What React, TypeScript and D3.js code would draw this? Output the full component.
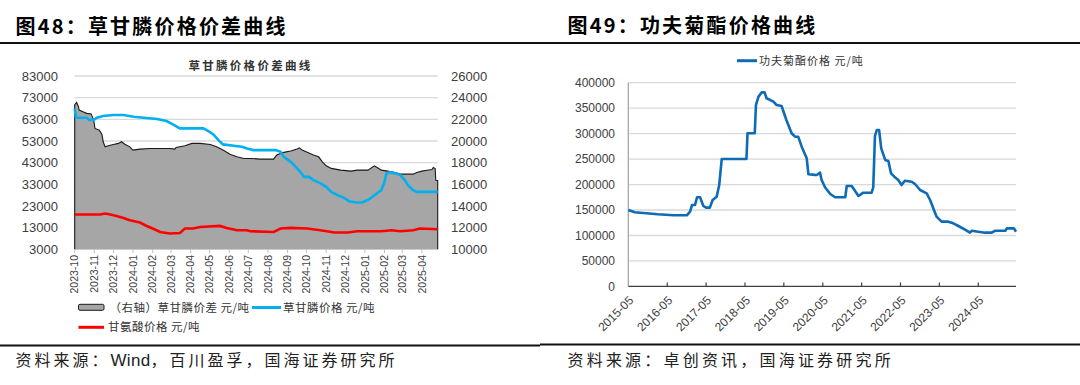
import React from "react";
import * as d3 from "d3";

// ---------- Left chart data (图48) ----------
const leftMonthLabels = [
  "2023-10","2023-11","2023-12","2024-01","2024-02","2024-03","2024-04","2024-05","2024-06","2024-07",
  "2024-08","2024-09","2024-10","2024-11","2024-12","2025-01","2025-02","2025-03","2025-04",
];
const leftAxisTicks = [3000, 13000, 23000, 33000, 43000, 53000, 63000, 73000, 83000];
const rightAxisTicks = [10000, 12000, 14000, 16000, 18000, 20000, 22000, 24000, 26000];

// 草甘膦价差 (right axis)
const spreadSeries: [string, number][] = [
  ["2023-10-01", 23320], ["2023-10-04", 23570], ["2023-10-07", 23160], ["2023-10-08", 22860],
  ["2023-10-14", 22700], ["2023-10-20", 22550], ["2023-10-27", 22500], ["2023-10-31", 21930],
  ["2023-11-02", 21160], ["2023-11-09", 21000], ["2023-11-13", 20600], ["2023-11-15", 19930],
  ["2023-11-18", 19460], ["2023-11-23", 19560], ["2023-12-01", 19680], ["2023-12-09", 19780],
  ["2023-12-14", 19930], ["2023-12-19", 19700], ["2023-12-27", 19460], ["2024-01-01", 19160],
  ["2024-01-12", 19250], ["2024-01-28", 19300], ["2024-02-28", 19300], ["2024-03-07", 19250],
  ["2024-03-09", 19400], ["2024-03-23", 19560], ["2024-04-03", 19780], ["2024-04-16", 19780],
  ["2024-05-02", 19680], ["2024-05-12", 19460], ["2024-05-22", 19160], ["2024-06-03", 18760],
  ["2024-06-13", 18540], ["2024-06-24", 18390], ["2024-07-04", 18390], ["2024-07-20", 18330],
  ["2024-08-10", 18330], ["2024-08-15", 18700], ["2024-08-26", 18950], ["2024-09-06", 19070],
  ["2024-09-16", 19250], ["2024-09-20", 19370], ["2024-09-24", 19160], ["2024-10-02", 18950],
  ["2024-10-12", 18700], ["2024-10-20", 18540], ["2024-10-26", 18080], ["2024-11-01", 17710],
  ["2024-11-09", 17470], ["2024-11-24", 17310], ["2024-12-10", 17220], ["2024-12-20", 17310],
  ["2025-01-06", 17310], ["2025-01-16", 17710], ["2025-01-21", 17530], ["2025-01-27", 17310],
  ["2025-02-06", 17220], ["2025-02-16", 17100], ["2025-02-26", 16940], ["2025-03-18", 16940],
  ["2025-03-24", 17100], ["2025-04-01", 17220], ["2025-04-09", 17300], ["2025-04-17", 17370],
  ["2025-04-19", 17560], ["2025-04-22", 17450], ["2025-04-23", 16380], ["2025-04-26", 16360],
];

// 草甘膦价格 (left axis)
const glyphosateSeries: [string, number][] = [
  ["2023-10-01", 68000], ["2023-10-03", 63720], ["2023-10-20", 63720], ["2023-10-24", 62660],
  ["2023-10-31", 62660], ["2023-11-05", 63720], ["2023-11-15", 64510], ["2023-12-01", 64970],
  ["2023-12-17", 64970], ["2024-01-02", 64190], ["2024-01-18", 63720], ["2024-02-08", 63120],
  ["2024-02-23", 62200], ["2024-03-04", 60670], ["2024-03-15", 58820], ["2024-04-21", 58820],
  ["2024-04-29", 57570], ["2024-05-07", 56050], ["2024-05-15", 53410], ["2024-05-22", 51420],
  ["2024-06-08", 50780], ["2024-06-21", 50320], ["2024-06-29", 49580], ["2024-07-09", 48790],
  ["2024-08-13", 48790], ["2024-08-21", 48000], ["2024-08-26", 45690], ["2024-09-06", 43380],
  ["2024-09-14", 41070], ["2024-09-21", 38760], ["2024-09-27", 36450], ["2024-10-05", 36450],
  ["2024-10-12", 34920], ["2024-10-23", 33400], ["2024-11-01", 31830], ["2024-11-09", 29500],
  ["2024-11-19", 27990], ["2024-11-29", 26740], ["2024-12-07", 25210], ["2024-12-18", 24610],
  ["2024-12-28", 24610], ["2025-01-08", 26140], ["2025-01-16", 27990], ["2025-01-27", 30300],
  ["2025-02-01", 34140], ["2025-02-04", 38020], ["2025-02-09", 38480], ["2025-02-19", 38020],
  ["2025-02-26", 37230], ["2025-03-05", 34920], ["2025-03-10", 32610], ["2025-03-18", 30300],
  ["2025-03-24", 29500], ["2025-04-26", 29500],
];

// 甘氨酸价格 (left axis)
const glycineSeries: [string, number][] = [
  ["2023-10-01", 19060], ["2023-11-10", 19060], ["2023-11-18", 19530], ["2023-11-26", 19060],
  ["2023-12-06", 18420], ["2023-12-17", 17490], ["2023-12-27", 16430], ["2024-01-12", 15360],
  ["2024-01-20", 14120], ["2024-02-01", 12590], ["2024-02-13", 11020], ["2024-02-28", 10300],
  ["2024-03-15", 10560], ["2024-03-23", 12590], ["2024-04-05", 12590], ["2024-04-16", 13330],
  ["2024-05-17", 13790], ["2024-05-28", 12870], ["2024-06-13", 11810], ["2024-06-29", 11810],
  ["2024-07-04", 11340], ["2024-08-10", 11020], ["2024-08-21", 12590], ["2024-09-06", 12870],
  ["2024-10-02", 12590], ["2024-10-23", 11810], ["2024-11-14", 10740], ["2024-12-05", 10740],
  ["2024-12-20", 11340], ["2025-01-27", 11340], ["2025-02-12", 11810], ["2025-02-26", 11340],
  ["2025-03-18", 11810], ["2025-03-29", 12590], ["2025-04-26", 12270],
];

// ---------- Right chart data (图49) ----------
const rightYearLabels = [
  "2015-05","2016-05","2017-05","2018-05","2019-05","2020-05","2021-05","2022-05","2023-05","2024-05",
];
const priceAxisTicks = [0, 50000, 100000, 150000, 200000, 250000, 300000, 350000, 400000];

// 功夫菊酯价格
const lambdaSeries: [string, number][] = [
  ["2015-05-01", 150000], ["2015-07-01", 145500], ["2016-02-01", 141600], ["2016-07-01", 139600],
  ["2016-11-01", 139600], ["2016-12-01", 146700], ["2016-12-20", 159900], ["2017-01-17", 160000],
  ["2017-02-05", 175000], ["2017-03-05", 175000], ["2017-04-05", 157900], ["2017-05-01", 154600],
  ["2017-06-05", 154600], ["2017-07-01", 169700], ["2017-08-08", 176200], ["2017-09-01", 199100],
  ["2017-09-25", 250200], ["2018-05-15", 250200], ["2018-05-25", 300700], ["2018-08-01", 300700],
  ["2018-08-12", 356000], ["2018-09-05", 372600], ["2018-10-06", 381200], ["2018-11-01", 381000],
  ["2018-11-20", 369400], ["2019-01-23", 362800], ["2019-02-22", 356200], ["2019-04-10", 354300],
  ["2019-05-25", 326800], ["2019-07-13", 300700], ["2019-08-14", 294000], ["2019-09-13", 294000],
  ["2019-10-16", 274400], ["2019-12-02", 251600], ["2019-12-18", 220200], ["2020-02-18", 219000],
  ["2020-03-05", 218800], ["2020-04-05", 223300], ["2020-04-20", 209000], ["2020-05-22", 194600],
  ["2020-07-10", 181500], ["2020-08-25", 175000], ["2020-11-28", 175000], ["2020-12-12", 197200],
  ["2021-01-28", 197200], ["2021-04-01", 177600], ["2021-05-16", 184000], ["2021-08-03", 184000],
  ["2021-08-18", 194600], ["2021-09-03", 295400], ["2021-09-21", 307200], ["2021-10-12", 307200],
  ["2021-11-01", 271200], ["2021-12-08", 248300], ["2022-01-07", 246300], ["2022-02-01", 222100],
  ["2022-03-04", 215500], ["2022-04-10", 209000], ["2022-05-11", 199100], ["2022-06-11", 207600],
  ["2022-08-14", 205600], ["2022-09-14", 201100], ["2022-11-01", 189300], ["2023-01-02", 182800],
  ["2023-02-03", 169700], ["2023-03-05", 153400], ["2023-04-05", 136900], ["2023-05-22", 127100],
  ["2023-07-24", 127100], ["2023-09-09", 123900], ["2023-10-27", 118600], ["2024-01-01", 110800],
  ["2024-02-12", 105500], ["2024-03-01", 109400], ["2024-05-01", 107400], ["2024-07-03", 105500],
  ["2024-09-04", 105500], ["2024-10-07", 109400], ["2025-01-10", 109400], ["2025-01-25", 114000],
  ["2025-04-01", 114000], ["2025-04-20", 107400],
];

const parseDay = d3.timeParse("%Y-%m-%d");
const parseMonth = d3.timeParse("%Y-%m");

const NUM_FONT = "'Liberation Sans', Arial, sans-serif";
const CJK_FONT = "'Noto Sans CJK SC', 'Noto Sans', sans-serif";

type Pt = { date: Date; value: number };
const toPts = (s: [string, number][]): Pt[] => s.map(([d, v]) => ({ date: parseDay(d) as Date, value: v }));

function LeftChart() {
  const x = d3
    .scaleTime()
    .domain([parseDay("2023-10-01") as Date, parseDay("2025-04-26") as Date])
    .range([74.7, 437.7]);
  const yL = d3.scaleLinear().domain([3000, 83000]).range([249.3, 76]);
  const yR = d3.scaleLinear().domain([10000, 26000]).range([249.3, 76]);

  const spread = toPts(spreadSeries);
  const gly = toPts(glyphosateSeries);
  const glc = toPts(glycineSeries);

  const area = d3
    .area<Pt>()
    .x((d) => x(d.date))
    .y0(yR(10000))
    .y1((d) => yR(d.value));
  const topLine = d3
    .line<Pt>()
    .x((d) => x(d.date))
    .y((d) => yR(d.value));
  const first = spread[0];
  const last = spread[spread.length - 1];
  const outline =
    `M${x(first.date)},${yR(10000)}L` +
    (topLine(spread) as string).slice(1) +
    `L${x(last.date)},${yR(10000)}`;

  const lineL = d3
    .line<Pt>()
    .x((d) => x(d.date))
    .y((d) => yL(d.value));

  const months = leftMonthLabels.map((m) => parseMonth(m) as Date);

  return (
    <g>
      {leftAxisTicks.map((t) => (
        <line key={t} x1={74.7} x2={437.7} y1={yL(t)} y2={yL(t)} stroke="#d9d9d9" strokeWidth={1.3} />
      ))}
      {leftAxisTicks.map((t) => (
        <text key={"l" + t} x={58} y={yL(t)} dy="0.35em" textAnchor="end" fontFamily={NUM_FONT} fontSize={13} fill="#404040">
          {t}
        </text>
      ))}
      {rightAxisTicks.map((t) => (
        <text key={"r" + t} x={451} y={yR(t)} dy="0.35em" textAnchor="start" fontFamily={NUM_FONT} fontSize={13} fill="#404040">
          {t}
        </text>
      ))}
      <path d={area(spread) as string} fill="#a6a6a6" />
      <path d={outline} fill="none" stroke="#1a1a1a" strokeWidth={1.1} />
      <path d={lineL(glc) as string} fill="none" stroke="#ff0000" strokeWidth={2.6} />
      <path d={lineL(gly) as string} fill="none" stroke="#00b0f0" strokeWidth={2.6} />
      {months.map((m, i) => (
        <g key={i}>
          <line x1={x(m)} x2={x(m)} y1={249.3} y2={253} stroke="#bfbfbf" strokeWidth={1} />
          <text
            transform={`translate(${x(m)},255) rotate(-90)`}
            textAnchor="end"
            dy="0.35em"
            fontFamily={NUM_FONT}
            fontSize={10.5}
            fill="#404040"
          >
            {leftMonthLabels[i]}
          </text>
        </g>
      ))}
      <text x={250.5} y={70} textAnchor="middle" fontFamily={CJK_FONT} fontSize={11.5} fontWeight={700} letterSpacing={2.3} fill="#333">
        草甘膦价格价差曲线
      </text>
      <rect x={78.5} y={304.3} width={25.5} height={6} rx={1.5} fill="#a6a6a6" stroke="#1a1a1a" strokeWidth={1} />
      <text x={109.5} y={307.5} dy="0.35em" fontFamily={CJK_FONT} fontSize={11.5} letterSpacing={0.5} fill="#333">
        （右轴）草甘膦价差 元/吨
      </text>
      <line x1={252} x2={281} y1={307.5} y2={307.5} stroke="#00b0f0" strokeWidth={3} />
      <text x={283} y={307.5} dy="0.35em" fontFamily={CJK_FONT} fontSize={11.5} letterSpacing={0.5} fill="#333">
        草甘膦价格 元/吨
      </text>
      <line x1={78.5} x2={104} y1={327.3} y2={327.3} stroke="#ff0000" strokeWidth={3} />
      <text x={108} y={327.3} dy="0.35em" fontFamily={CJK_FONT} fontSize={11.5} letterSpacing={0.5} fill="#333">
        甘氨酸价格 元/吨
      </text>
    </g>
  );
}

function RightChart() {
  const x = d3
    .scaleTime()
    .domain([parseDay("2015-05-01") as Date, parseDay("2025-04-20") as Date])
    .range([628.3, 1016]);
  const y = d3.scaleLinear().domain([0, 400000]).range([286.4, 82.7]);
  const pts = toPts(lambdaSeries);
  const line = d3
    .line<Pt>()
    .x((d) => x(d.date))
    .y((d) => y(d.value));
  const years = rightYearLabels.map((m) => parseMonth(m) as Date);

  return (
    <g>
      {priceAxisTicks.filter((t) => t > 0).map((t) => (
        <line key={t} x1={628.3} x2={1016} y1={y(t)} y2={y(t)} stroke="#d9d9d9" strokeWidth={1.3} />
      ))}
      {priceAxisTicks.map((t) => (
        <text key={"t" + t} x={615} y={y(t)} dy="0.35em" textAnchor="end" fontFamily={NUM_FONT} fontSize={12} fill="#404040">
          {t}
        </text>
      ))}
      <line x1={628.3} x2={628.3} y1={82.7} y2={286.4} stroke="#a6a6a6" strokeWidth={1.3} />
      <line x1={628.3} x2={1016} y1={286.4} y2={286.4} stroke="#404040" strokeWidth={1.3} />
      {years.map((d, i) => (
        <g key={i}>
          {i > 0 && <line x1={x(d)} x2={x(d)} y1={286.4} y2={282.4} stroke="#404040" strokeWidth={1.2} />}
          <text
            transform={`translate(${x(d) + 3},${298}) rotate(-45)`}
            textAnchor="end"
            dy="0.35em"
            fontFamily={NUM_FONT}
            fontSize={12}
            fill="#404040"
          >
            {rightYearLabels[i]}
          </text>
        </g>
      ))}
      <path d={line(pts) as string} fill="none" stroke="#0e6bb5" strokeWidth={2.6} strokeLinejoin="round" />
      <line x1={737} x2={757} y1={60.7} y2={60.7} stroke="#0e6bb5" strokeWidth={3} />
      <text x={759} y={60.7} dy="0.35em" fontFamily={CJK_FONT} fontSize={11} letterSpacing={1} fill="#333">
        功夫菊酯价格 元/吨
      </text>
    </g>
  );
}

export default function App() {
  return (
    <svg
      width={1080}
      height={385}
      viewBox="0 0 1080 385"
      style={{ position: "fixed", left: 0, top: 0, background: "#fff" }}
    >
      <rect x={0} y={0} width={1080} height={385} fill="#fff" />
      <text x={15.5} y={34} fontFamily={CJK_FONT} fontSize={20} fontWeight={700} letterSpacing={2.2} fill="#000">
        图48：草甘膦价格价差曲线
      </text>
      <text x={567.5} y={33} fontFamily={CJK_FONT} fontSize={20} fontWeight={700} letterSpacing={2.2} fill="#000">
        图49：功夫菊酯价格曲线
      </text>
      <line x1={0} x2={540} y1={43} y2={43} stroke="#111" strokeWidth={2.2} />
      <line x1={540} x2={1080} y1={43} y2={43} stroke="#111" strokeWidth={2.2} />
      <LeftChart />
      <RightChart />
      <line x1={0} x2={540} y1={345.5} y2={345.5} stroke="#111" strokeWidth={2.2} />
      <line x1={540} x2={1080} y1={344.5} y2={344.5} stroke="#111" strokeWidth={2.2} />
      <text x={15.5} y={366} fontFamily={CJK_FONT} fontSize={16} fill="#222">
        <tspan letterSpacing={3}>资料来源：</tspan>
        <tspan letterSpacing={0.3} fontFamily={NUM_FONT} fontSize={17}>Wind</tspan>
        <tspan letterSpacing={3}>，百川盈孚，国海证券研究所</tspan>
      </text>
      <text x={567.5} y={366} fontFamily={CJK_FONT} fontSize={16} letterSpacing={3.2} fill="#222">
        资料来源：卓创资讯，国海证券研究所
      </text>
    </svg>
  );
}
